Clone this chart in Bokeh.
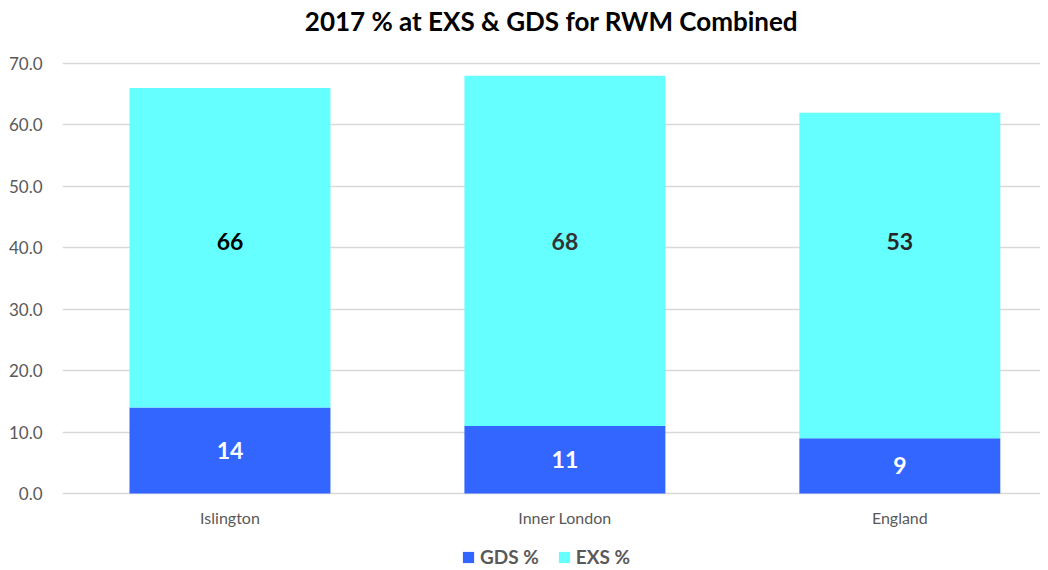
import numpy as np
from bokeh.plotting import figure
from bokeh.models import Range1d, FixedTicker, Legend, LegendItem, ColumnDataSource, NumeralTickFormatter, Label
from bokeh.core.properties import value
from bokeh.embed import file_html
from bokeh.resources import INLINE

categories = ["Islington", "Inner London", "England"]
gds_values = [14, 11, 9]
exs_bar_top = [66, 68, 62]
exs_labels = ["66", "68", "53"]
gds_labels = ["14", "11", "9"]
y_ticks = [0, 10, 20, 30, 40, 50, 60, 70]
title_text = "2017 % at EXS & GDS for RWM Combined"

FONT = "Lato"
GDS_COLOR = "#3366FF"
EXS_COLOR = "#66FFFF"

x = np.arange(len(categories)) + 0.5
exs_label_y = 41

# frame spans the whole figure; 0..70 occupies 430 px, the rest holds title, labels and legend
PLOT_H = 430
TOP_PX = 63
BOTTOM_PX = 75
PX_PER_UNIT = PLOT_H / 70
y_start = -BOTTOM_PX / PX_PER_UNIT
y_end = 70 + TOP_PX / PX_PER_UNIT
title_y = 70 + 43 / PX_PER_UNIT

src = ColumnDataSource(dict(
    x=x,
    gds=gds_values,
    top=exs_bar_top,
    gds_mid=[g / 2 for g in gds_values],
    exs_y=[exs_label_y] * len(categories),
    exs_lab=exs_labels,
    gds_lab=gds_labels,
    exs_col=["#000000", "#333333", "#262626"],
))

x_end = 2.92
p = figure(frame_width=978, frame_height=TOP_PX + PLOT_H + BOTTOM_PX, output_backend="svg",
           toolbar_location=None,
           x_range=Range1d(0, x_end), y_range=Range1d(y_start, y_end),
           min_border_left=62, min_border_right=0, min_border_top=0, min_border_bottom=0)
p.outline_line_color = None

p.add_layout(Label(x=x_end / 2, y=title_y, text=title_text, text_align="center", text_baseline="middle",
                   text_font=FONT, text_font_size="26px", text_font_style="bold", text_color="#000000"))

r_gds = p.vbar(x="x", top="gds", bottom=0, width=0.6, source=src, color=GDS_COLOR, line_color=None)
r_exs = p.vbar(x="x", top="top", bottom="gds", width=0.6, source=src, color=EXS_COLOR, line_color=None)

p.text(x="x", y="gds_mid", text="gds_lab", source=src, text_align="center", text_baseline="middle",
       text_font=value(FONT), text_font_size="23px", text_font_style="bold", text_color="#FFFFFF")
p.text(x="x", y="exs_y", text="exs_lab", source=src, text_align="center", text_baseline="middle",
       text_font=value(FONT), text_font_size="23px", text_font_style="bold", text_color="exs_col")

p.xgrid.grid_line_color = None
p.ygrid.grid_line_color = "#D9D9D9"
p.ygrid.grid_line_width = 1.5
p.ygrid.ticker = FixedTicker(ticks=y_ticks)

p.yaxis.ticker = FixedTicker(ticks=y_ticks)
p.yaxis.formatter = NumeralTickFormatter(format="0.0")
p.yaxis.axis_line_color = None
p.yaxis.major_tick_line_color = None
p.yaxis.minor_tick_line_color = None
p.yaxis.major_label_text_font = FONT
p.yaxis.major_label_text_font_size = "17px"
p.yaxis.major_label_text_color = "#595959"
p.yaxis.major_label_standoff = 14

p.xaxis.fixed_location = 0
p.xaxis.ticker = FixedTicker(ticks=[float(v) for v in x])
p.xaxis.major_label_overrides = {float(v): c for v, c in zip(x, categories)}
p.xaxis.axis_line_color = None
p.xaxis.major_tick_line_color = None
p.xaxis.minor_tick_line_color = None
p.xaxis.major_label_text_font = FONT
p.xaxis.major_label_text_font_size = "16px"
p.xaxis.major_label_text_color = "#595959"
p.xaxis.major_label_standoff = 8

legend = Legend(items=[LegendItem(label="GDS %", renderers=[r_gds]),
                       LegendItem(label="EXS %", renderers=[r_exs])],
                orientation="horizontal", location=(399, 0),
                label_text_font=FONT, label_text_font_size="19px", label_text_color="#595959",
                label_text_font_style="bold",
                glyph_width=14, glyph_height=14, spacing=18, padding=0, margin=0,
                border_line_color=None, background_fill_alpha=0)
p.add_layout(legend, "center")

open("out.html", "w").write(file_html(p, INLINE))
